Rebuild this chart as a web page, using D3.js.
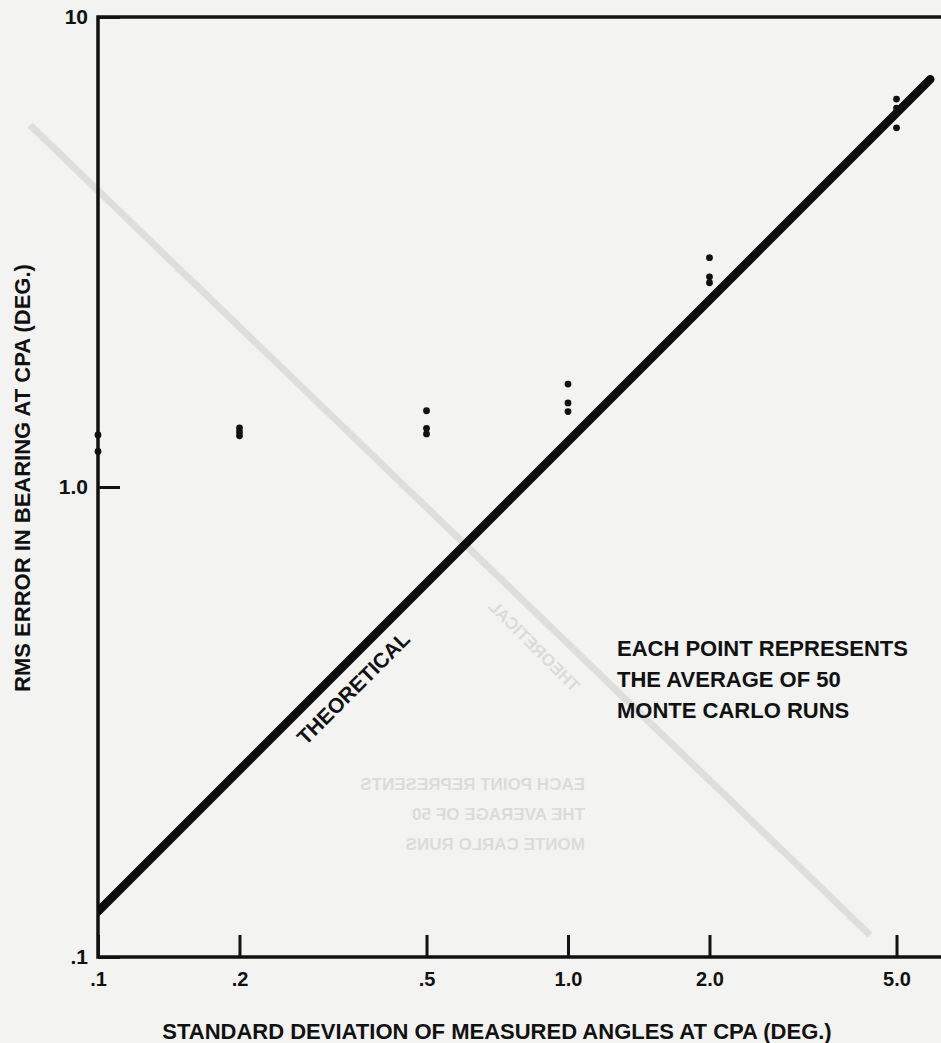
<!DOCTYPE html>
<html>
<head>
<meta charset="utf-8">
<script src="https://cdn.jsdelivr.net/npm/d3@7"></script>
<style>
  body { margin: 0; background: #f3f3f1; }
  svg { display: block; }
  text { font-family: "Liberation Sans", Arial, sans-serif; font-weight: bold; fill: #111; }
</style>
</head>
<body>
<script>
// measured points (std dev of measured angle, rms bearing error), 3 runs per setting
var sigma = [0.1, 0.1, 0.2, 0.2, 0.2, 0.5, 0.5, 0.5, 1.0, 1.0, 1.0, 2.0, 2.0, 2.0, 5.0, 5.0, 5.0];
var rmsErr = [1.29, 1.19, 1.335, 1.31, 1.285, 1.453, 1.333, 1.297, 1.656, 1.51, 1.447, 3.075, 2.80, 2.72, 6.69, 6.40, 5.81];

// theoretical line end points
var theoryX = [0.1, 5.9];
var theoryY = [0.125, 7.37];

var xTicks = [0.1, 0.2, 0.5, 1.0, 2.0, 5.0];
var xTickLabels = [".1", ".2", ".5", "1.0", "2.0", "5.0"];
var yTicks = [0.1, 1.0, 10];
var yTickLabels = [".1", "1.0", "10"];

var noteLines = ["EACH POINT REPRESENTS", "THE AVERAGE OF 50", "MONTE CARLO RUNS"];

var width = 941, height = 1043;
var plotLeft = 98, plotTop = 17, plotBottom = 957;

var svg = d3.select("body").append("svg")
  .attr("width", width)
  .attr("height", height);

var xScale = d3.scaleLog()
  .domain([0.1, 10])
  .range([plotLeft, plotLeft + 940]);
var yScale = d3.scaleLog()
  .domain([0.1, 10])
  .range([plotBottom, plotTop]);

// faint bleed-through from the other side of the page
var ghost = svg.append("g").attr("opacity", 0.1);
ghost.append("line")
  .attr("x1", 30).attr("y1", 125)
  .attr("x2", 870).attr("y2", 935)
  .attr("stroke", "#333")
  .attr("stroke-width", 7);
ghost.append("g")
  .attr("transform", "translate(585,790) scale(-1,1)")
  .selectAll("text")
  .data(noteLines)
  .enter().append("text")
    .attr("x", 0)
    .attr("y", (d, i) => i * 30)
    .style("font-size", "17px")
    .text(d => d);
ghost.append("text")
  .attr("transform", "translate(530,650) rotate(45) scale(-1,1)")
  .attr("text-anchor", "middle")
  .style("font-size", "17px")
  .text("THEORETICAL");

// frame
svg.append("path")
  .attr("d", "M" + (width + 5) + "," + plotTop + "H" + plotLeft + "V" + plotBottom + "H" + (width + 5))
  .attr("fill", "none")
  .attr("stroke", "#111")
  .attr("stroke-width", 3.5);

var xAxis = d3.axisBottom(xScale)
  .tickValues(xTicks)
  .tickFormat((d, i) => xTickLabels[i])
  .tickSizeInner(-22)
  .tickSizeOuter(0)
  .tickPadding(15);
var gx = svg.append("g")
  .attr("transform", "translate(0," + plotBottom + ")")
  .call(xAxis);
gx.select(".domain").remove();
gx.selectAll(".tick line").attr("stroke", "#111").attr("stroke-width", 3);
gx.selectAll(".tick text")
  .style("font-size", "20px")
  .style("font-family", "'Liberation Sans', Arial, sans-serif")
  .attr("fill", "#111");

var yAxis = d3.axisLeft(yScale)
  .tickValues(yTicks)
  .tickFormat((d, i) => yTickLabels[i])
  .tickSizeInner(-22)
  .tickSizeOuter(0)
  .tickPadding(10);
var gy = svg.append("g")
  .attr("transform", "translate(" + plotLeft + ",0)")
  .call(yAxis);
gy.select(".domain").remove();
gy.selectAll(".tick line").attr("stroke", "#111").attr("stroke-width", 3);
gy.selectAll(".tick text")
  .style("font-size", "21px")
  .style("font-family", "'Liberation Sans', Arial, sans-serif")
  .attr("fill", "#111");

// theoretical line
svg.append("clipPath").attr("id", "plot")
  .append("rect")
    .attr("x", plotLeft).attr("y", plotTop)
    .attr("width", width - plotLeft + 10).attr("height", plotBottom - plotTop);

var line = d3.line()
  .x(d => xScale(d[0]))
  .y(d => yScale(d[1]));

svg.append("path")
  .attr("clip-path", "url(#plot)")
  .attr("d", line(d3.zip(theoryX, theoryY)))
  .attr("fill", "none")
  .attr("stroke", "#0c0c0c")
  .attr("stroke-width", 8.5)
  .attr("stroke-linecap", "round");

svg.append("text")
  .attr("transform", "translate(" + xScale(0.323) + "," + yScale(0.404) + ") rotate(-45)")
  .attr("text-anchor", "middle")
  .attr("y", 30)
  .style("font-size", "21px")
  .text("THEORETICAL");

// data points
svg.append("g")
  .selectAll("circle")
  .data(d3.zip(sigma, rmsErr))
  .enter().append("circle")
    .attr("cx", d => xScale(d[0]))
    .attr("cy", d => yScale(d[1]))
    .attr("r", 3.4)
    .attr("fill", "#111");

// note
svg.append("g")
  .attr("transform", "translate(617,656)")
  .selectAll("text")
  .data(noteLines)
  .enter().append("text")
    .attr("x", 0)
    .attr("y", (d, i) => i * 31)
    .style("font-size", "22px")
    .text(d => d);

// axis titles
svg.append("text")
  .attr("x", 497)
  .attr("y", 1039)
  .attr("text-anchor", "middle")
  .style("font-size", "22px")
  .text("STANDARD DEVIATION OF MEASURED ANGLES AT CPA (DEG.)");

svg.append("text")
  .attr("transform", "translate(30,478) rotate(-90)")
  .attr("text-anchor", "middle")
  .style("font-size", "22px")
  .text("RMS ERROR IN BEARING AT CPA (DEG.)");
</script>
</body>
</html>
